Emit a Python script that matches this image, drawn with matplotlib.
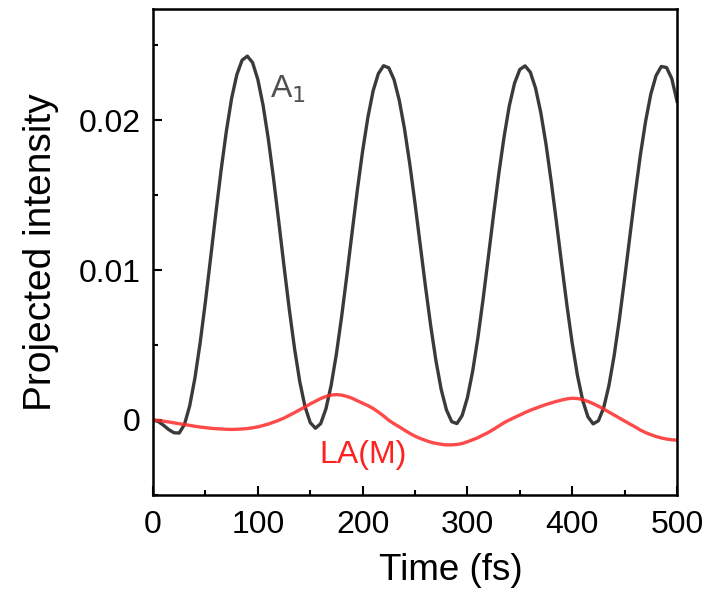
import numpy as np
import matplotlib
matplotlib.use("Agg")
import matplotlib.pyplot as plt
from matplotlib.ticker import MultipleLocator, FuncFormatter

plt.rcParams['font.family'] = ['Liberation Sans', 'DejaVu Sans']

# time axis (fs), read every 5 fs
time_fs = np.arange(0, 501, 5)

# A1 mode projected intensity
a1 = [
    0.00000, -0.00010, -0.00035, -0.00064, -0.00085, -0.00087, -0.00030, 0.00094,
    0.00280, 0.00515, 0.00788, 0.01082, 0.01381, 0.01667, 0.01926, 0.02144,
    0.02303, 0.02399, 0.02426, 0.02383, 0.02271, 0.02099, 0.01875, 0.01610,
    0.01322, 0.01026, 0.00740, 0.00479, 0.00257, 0.00090, -0.00017, -0.00055,
    -0.00024, 0.00074, 0.00232, 0.00441, 0.00690, 0.00966, 0.01253, 0.01534,
    0.01793, 0.02016, 0.02194, 0.02309, 0.02362, 0.02348, 0.02269, 0.02131,
    0.01940, 0.01707, 0.01444, 0.01166, 0.00889, 0.00627, 0.00394, 0.00203,
    0.00067, -0.00011, -0.00024, 0.00030, 0.00149, 0.00325, 0.00548, 0.00808,
    0.01088, 0.01372, 0.01644, 0.01889, 0.02096, 0.02246, 0.02337, 0.02361,
    0.02319, 0.02213, 0.02050, 0.01838, 0.01588, 0.01316, 0.01035, 0.00762,
    0.00511, 0.00297, 0.00130, 0.00021, -0.00026, -0.00005, 0.00081, 0.00229,
    0.00429, 0.00671, 0.00942, 0.01224, 0.01504, 0.01765, 0.01991, 0.02173,
    0.02296, 0.02357, 0.02350, 0.02276, 0.02125,
]

# LA(M) mode projected intensity
la_m = [
    0.00000, -0.00003, -0.00008, -0.00013, -0.00019, -0.00025, -0.00030, -0.00036,
    -0.00042, -0.00047, -0.00051, -0.00055, -0.00058, -0.00060, -0.00062, -0.00063,
    -0.00062, -0.00060, -0.00057, -0.00052, -0.00046, -0.00037, -0.00027, -0.00015,
    -0.00002, 0.00013, 0.00031, 0.00049, 0.00068, 0.00087, 0.00107, 0.00125,
    0.00143, 0.00157, 0.00166, 0.00169, 0.00166, 0.00157, 0.00145, 0.00128,
    0.00112, 0.00096, 0.00077, 0.00053, 0.00027, -0.00002, -0.00025, -0.00046,
    -0.00068, -0.00089, -0.00108, -0.00123, -0.00136, -0.00148, -0.00156, -0.00162,
    -0.00166, -0.00166, -0.00163, -0.00157, -0.00145, -0.00132, -0.00118, -0.00100,
    -0.00083, -0.00062, -0.00040, -0.00018, 0.00000, 0.00017, 0.00033, 0.00050,
    0.00065, 0.00078, 0.00091, 0.00103, 0.00114, 0.00124, 0.00133, 0.00141,
    0.00145, 0.00143, 0.00136, 0.00124, 0.00109, 0.00092, 0.00073, 0.00053,
    0.00033, 0.00013, -0.00007, -0.00027, -0.00046, -0.00067, -0.00084, -0.00098,
    -0.00110, -0.00120, -0.00127, -0.00132, -0.00135,
]

fig = plt.figure(figsize=(7.09, 5.94), dpi=100)
ax = fig.add_axes([0.2158, 0.1667, 0.7391, 0.8181])

ax.plot(time_fs, a1, color='#3a3a3a', lw=2.4, solid_joinstyle='round')
ax.plot(time_fs, la_m, color='#ff2a2a', lw=2.4, alpha=0.85, solid_joinstyle='round')

ax.set_xlim(0, 500)
ax.set_ylim(-0.005, 0.0274)

ax.xaxis.set_major_locator(MultipleLocator(100))
ax.xaxis.set_minor_locator(MultipleLocator(50))
ax.yaxis.set_major_locator(MultipleLocator(0.01))
ax.yaxis.set_minor_locator(MultipleLocator(0.005))
ax.yaxis.set_major_formatter(FuncFormatter(lambda v, p: "0" if abs(v) < 1e-9 else f"{v:.2f}"))

ax.tick_params(which='both', direction='in', width=1.5, labelsize=23, top=False, right=False)
ax.tick_params(which='major', length=6.5, pad=9)
ax.tick_params(axis='x', which='major', pad=11)
ax.tick_params(which='minor', length=3.5)
for s in ax.spines.values():
    s.set_linewidth(1.8)

ax.set_xlabel("Time (fs)", fontsize=26.5)
ax.xaxis.set_label_coords(0.569, -0.12)
ax.set_ylabel("Projected intensity", fontsize=28, labelpad=14)

ax.text(112, 0.0215, "A$_1$", fontsize=23, color='#505050')
ax.text(159, -0.0029, "LA(M)", fontsize=23, color='#ff2020')

fig.savefig("out.png", dpi=100)
